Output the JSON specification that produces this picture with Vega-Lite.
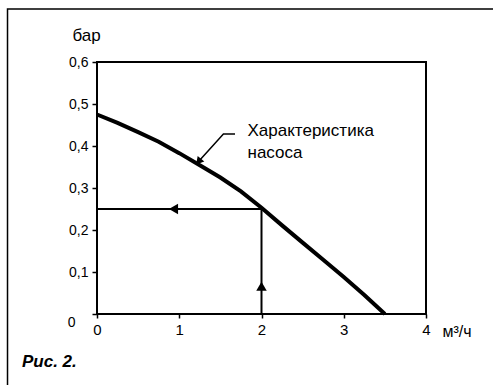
{
  "$schema": "https://vega.github.io/schema/vega-lite/v6.json",
  "width": 329,
  "height": 252,
  "autosize": {"type": "none"},
  "padding": {"left": 97, "top": 62, "right": 67, "bottom": 71},
  "background": "white",
  "config": {"view": {"stroke": "black", "strokeWidth": 2}, "font": "Liberation Sans"},
  "datasets": {
    "curve": [
      {"q": 0, "p": 0.475},
      {"q": 0.25, "p": 0.455},
      {"q": 0.5, "p": 0.433},
      {"q": 0.75, "p": 0.41},
      {"q": 1.0, "p": 0.383},
      {"q": 1.25, "p": 0.354},
      {"q": 1.5, "p": 0.325},
      {"q": 1.75, "p": 0.292},
      {"q": 2.0, "p": 0.253},
      {"q": 2.25, "p": 0.211},
      {"q": 2.5, "p": 0.17},
      {"q": 2.75, "p": 0.129},
      {"q": 3.0, "p": 0.088},
      {"q": 3.25, "p": 0.045},
      {"q": 3.5, "p": 0}
    ],
    "guides": [
      {"q": 0, "p": 0.25, "q2": 2, "p2": 0.25},
      {"q": 2, "p": 0, "q2": 2, "p2": 0.25}
    ],
    "leader": [
      {"q": 1.678, "p": 0.4286, "o": 1},
      {"q": 1.537, "p": 0.4286, "o": 2},
      {"q": 1.24, "p": 0.364, "o": 3}
    ],
    "labels": [
      {"q": 1.83, "p": 0.424, "text": "Характеристика"},
      {"q": 1.83, "p": 0.371, "text": "насоса"}
    ],
    "one": [{}]
  },
  "layer": [
    {
      "data": {"name": "one"},
      "mark": {"type": "rect", "fillOpacity": 0, "stroke": "black", "strokeWidth": 1.5},
      "encoding": {
        "x": {"datum": -1.088, "type": "quantitative", "scale": {"domain": [0, 4], "nice": false, "zero": false}},
        "x2": {"datum": 5},
        "y": {"datum": 0.726, "type": "quantitative", "scale": {"domain": [0, 0.6], "nice": false, "zero": false}},
        "y2": {"datum": -0.3}
      }
    },
    {
      "data": {"name": "curve"},
      "mark": {"type": "line", "color": "black", "strokeWidth": 4, "strokeCap": "butt"},
      "encoding": {
        "x": {
          "field": "q", "type": "quantitative",
          "scale": {"domain": [0, 4], "nice": false, "zero": false},
          "axis": {
            "values": [0, 1, 2, 3, 4], "format": "d", "grid": false, "domain": false,
            "tickColor": "black", "tickWidth": 1.5, "tickSize": 4,
            "labelFont": "Liberation Sans", "labelFontSize": 15, "labelColor": "black",
            "labelPadding": 4, "labelFlush": false,
            "title": "м³/ч", "titleFont": "Liberation Sans", "titleFontSize": 16, "titleFontWeight": "normal",
            "titleColor": "black", "titleX": 345, "titleY": 22, "titleAlign": "left", "titleBaseline": "alphabetic"
          }
        },
        "y": {
          "field": "p", "type": "quantitative",
          "scale": {"domain": [0, 0.6], "nice": false, "zero": false},
          "axis": {
            "values": [0, 0.1, 0.2, 0.3, 0.4, 0.5, 0.6], "grid": false, "domain": false,
            "labelExpr": "datum.value == 0 ? '0' : replace(format(datum.value, '.1f'), '.', ',')",
            "tickColor": "black", "tickWidth": 1.5, "tickSize": 5,
            "labelFont": "Liberation Sans", "labelFontSize": 14, "labelColor": "black",
            "labelPadding": {"condition": {"test": "datum.value == 0", "value": 17}, "value": 4},
            "labelOffset": {"condition": {"test": "datum.value == 0", "value": 8}, "value": 0},
            "labelFlush": false,
            "title": "бар", "titleFont": "Liberation Sans", "titleFontSize": 17, "titleFontWeight": "normal",
            "titleColor": "black", "titleAngle": 0, "titleX": -25, "titleY": -22, "titleAlign": "left", "titleBaseline": "alphabetic"
          }
        }
      }
    },
    {
      "data": {"name": "guides"},
      "mark": {"type": "rule", "color": "black", "strokeWidth": 2},
      "encoding": {
        "x": {"field": "q", "type": "quantitative"},
        "x2": {"field": "q2"},
        "y": {"field": "p", "type": "quantitative"},
        "y2": {"field": "p2"}
      }
    },
    {
      "data": {"name": "one"},
      "mark": {"type": "point", "shape": "triangle-left", "filled": true, "color": "black", "size": 110, "opacity": 1},
      "encoding": {
        "x": {"datum": 0.93, "type": "quantitative"},
        "y": {"datum": 0.25, "type": "quantitative"}
      }
    },
    {
      "data": {"name": "one"},
      "mark": {"type": "point", "shape": "triangle-up", "filled": true, "color": "black", "size": 110, "opacity": 1},
      "encoding": {
        "x": {"datum": 2, "type": "quantitative"},
        "y": {"datum": 0.066, "type": "quantitative"}
      }
    },
    {
      "data": {"name": "leader"},
      "mark": {"type": "line", "color": "black", "strokeWidth": 1.5},
      "encoding": {
        "x": {"field": "q", "type": "quantitative"},
        "y": {"field": "p", "type": "quantitative"},
        "order": {"field": "o"}
      }
    },
    {
      "data": {"name": "one"},
      "mark": {"type": "point", "shape": "triangle-up", "filled": true, "color": "black", "size": 75, "opacity": 1, "angle": 220},
      "encoding": {
        "x": {"datum": 1.235, "type": "quantitative"},
        "y": {"datum": 0.363, "type": "quantitative"}
      }
    },
    {
      "data": {"name": "labels"},
      "mark": {"type": "text", "align": "left", "baseline": "alphabetic", "font": "Liberation Sans", "fontSize": 17, "color": "black"},
      "encoding": {
        "x": {"field": "q", "type": "quantitative"},
        "y": {"field": "p", "type": "quantitative"},
        "text": {"field": "text"}
      }
    },
    {
      "data": {"name": "one"},
      "mark": {"type": "text", "align": "left", "baseline": "alphabetic", "font": "Liberation Sans", "fontSize": 17, "fontWeight": "bold", "fontStyle": "italic", "color": "black"},
      "encoding": {
        "x": {"datum": -0.912, "type": "quantitative"},
        "y": {"datum": -0.126, "type": "quantitative"},
        "text": {"value": "Рис. 2."}
      }
    }
  ]
}
